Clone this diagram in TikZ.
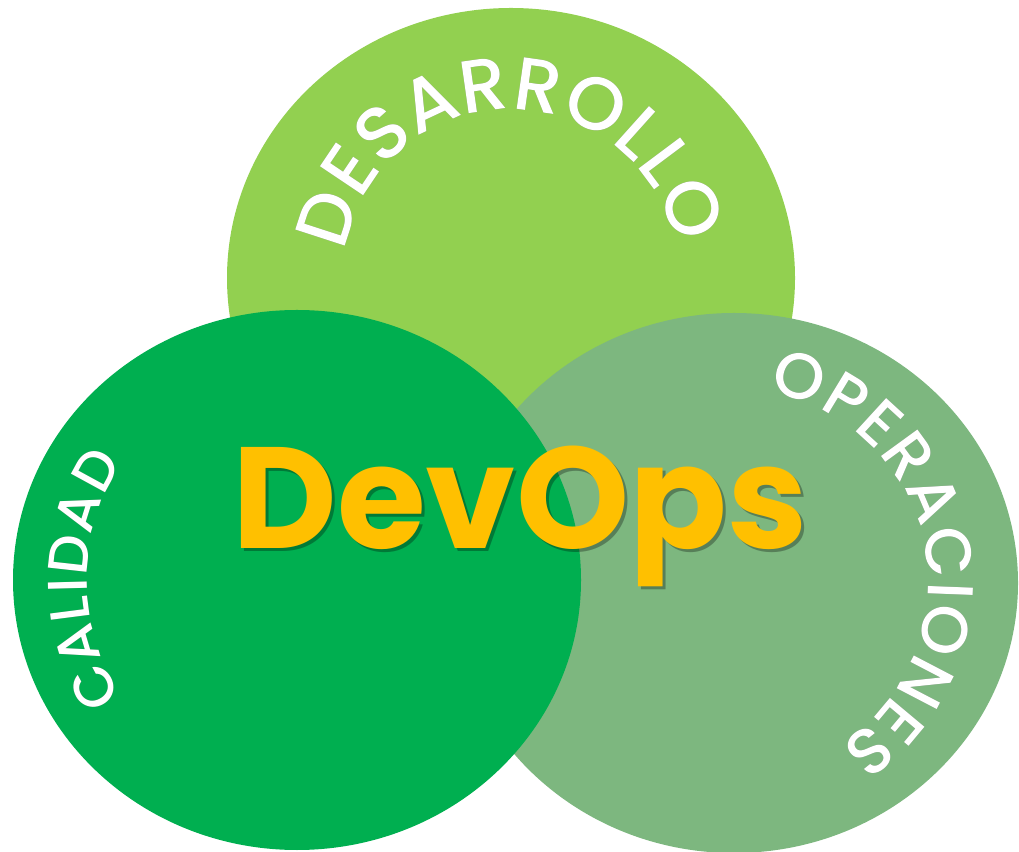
\documentclass[tikz,border=0pt]{standalone}
\usepackage{fontspec}
\setmainfont{Poppins}
\newfontfamily\arcfont{Poppins Medium}
\usetikzlibrary{shapes.geometric,decorations.text}
\definecolor{devgreen}{RGB}{146,208,80}
\definecolor{qagreen}{RGB}{0,175,80}
\definecolor{opsgreen}{RGB}{125,183,127}
\definecolor{logogold}{RGB}{255,192,0}
\newcommand{\bigarc}{\arcfont\fontsize{75}{78}\selectfont}
\newcommand{\midarc}{\arcfont\fontsize{65}{68}\selectfont}
\newcommand{\smallarc}{\arcfont\fontsize{56}{58}\selectfont}

\begin{document}
\begin{tikzpicture}[x=1pt, y=1pt,
    bubble/.style = {ellipse, minimum width=568, minimum height=540, inner sep=0, fill=#1},
    arclabel/.style 2 args = {decorate, decoration={text along path, text align=fit to path, text color=#1, text={#2}}},
    logo/.style = {font=\fontsize{144}{150}\selectfont\bfseries, inner sep=0, anchor=base}]
\useasboundingbox (0,0) rectangle (1019,851);

\node[bubble=devgreen] (dev) at (511,573) {};
\node[bubble=opsgreen] (ops) at (734,268) {};
\node[bubble=qagreen] (qa) at (297,271) {};

% curved titles, shadow first
\path[arclabel={black!40!devgreen}{|\bigarc|DESARROLLO}, transform canvas={xshift=2, yshift=-2}]
    (dev.center) ++(171:168) arc[start angle=171, end angle=15, radius=168];
\path[arclabel={white}{|\bigarc|DESARROLLO}]
    (dev.center) ++(171:168) arc[start angle=171, end angle=15, radius=168];

\path[arclabel={black!40!opsgreen}{|\midarc|OPERACIONES}, transform canvas={xshift=2, yshift=-2}]
    (ops.center) ++(80:194) arc[start angle=80, end angle=-57, radius=194];
\path[arclabel={white}{|\midarc|OPERACIONES}]
    (ops.center) ++(80:194) arc[start angle=80, end angle=-57, radius=194];

\path[arclabel={black!40!qagreen}{|\smallarc|CALIDAD}, transform canvas={xshift=2, yshift=-2}]
    (qa.center) ++(214:210) arc[start angle=214, end angle=146, radius=210];
\path[arclabel={white}{|\smallarc|CALIDAD}]
    (qa.center) ++(214:210) arc[start angle=214, end angle=146, radius=210];

% logo with soft shadow
\node[logo, text=black, text opacity=.3] (logoshadow) at (523,299) {DevOps};
\node[logo, text=logogold] (logo) at (520,302) {DevOps};
\end{tikzpicture}
\end{document}
